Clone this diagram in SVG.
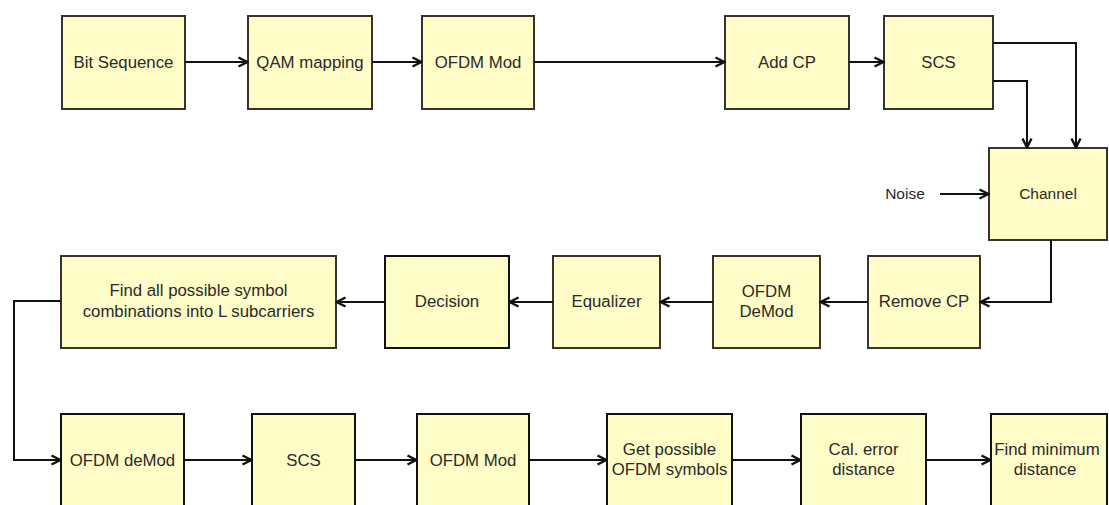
<svg xmlns="http://www.w3.org/2000/svg" width="1109" height="505" viewBox="0 0 1109 505">
  <style>
    .box { fill: #FFFCC8; stroke: #35352c; stroke-width: 2; }
    .dark { stroke: #111; }
    .lbl { font-family: "Liberation Sans", Arial, sans-serif; font-size: 16.8px; fill: #2a2a2a; text-anchor: middle; }
    .sm { font-size: 15.5px; }
    .wire { fill: none; stroke: #111; stroke-width: 2; marker-end: url(#arr); }
  </style>
  <defs>
    <marker id="arr" viewBox="0 0 12 12" refX="11" refY="6" markerWidth="12" markerHeight="12" markerUnits="userSpaceOnUse" orient="auto">
      <path d="M1.5,1.5 L10.5,6 L1.5,10.5" fill="none" stroke="#111" stroke-width="2.4" stroke-linejoin="miter"/>
    </marker>
  </defs>
  <rect width="1109" height="505" fill="#fff"/>

  <!-- transmitter chain -->
  <g id="bit-sequence">
    <rect class="box" x="62" y="16" width="123" height="93"/>
    <text class="lbl" x="123.5" y="68">Bit Sequence</text>
  </g>
  <g id="qam-mapping">
    <rect class="box" x="248" y="16" width="124" height="93"/>
    <text class="lbl" x="310" y="68">QAM mapping</text>
  </g>
  <g id="ofdm-mod-tx">
    <rect class="box" x="422" y="16" width="112" height="93"/>
    <text class="lbl" x="478" y="68">OFDM Mod</text>
  </g>
  <g id="add-cp">
    <rect class="box" x="725" y="16" width="124" height="93"/>
    <text class="lbl" x="787" y="68">Add CP</text>
  </g>
  <g id="scs-tx">
    <rect class="box" x="884" y="16" width="109" height="93"/>
    <text class="lbl" x="938.5" y="68">SCS</text>
  </g>
  <g id="channel">
    <rect class="box" x="989" y="148" width="118" height="92"/>
    <text class="lbl sm" x="1048" y="199">Channel</text>
  </g>
  <g id="noise">
    <text class="lbl sm" x="905" y="199">Noise</text>
  </g>

  <!-- receiver chain -->
  <g id="remove-cp">
    <rect class="box" x="868" y="256" width="112" height="92"/>
    <text class="lbl" x="924" y="307">Remove CP</text>
  </g>
  <g id="ofdm-demod-rx">
    <rect class="box" x="713" y="256" width="107" height="92"/>
    <text class="lbl" x="766.5" y="297">OFDM</text>
    <text class="lbl" x="766.5" y="317">DeMod</text>
  </g>
  <g id="equalizer">
    <rect class="box" x="553" y="256" width="107" height="92"/>
    <text class="lbl" x="606.5" y="307">Equalizer</text>
  </g>
  <g id="decision">
    <rect class="box dark" x="385" y="256" width="124" height="92"/>
    <text class="lbl" x="447" y="307">Decision</text>
  </g>
  <g id="find-combinations">
    <rect class="box" x="61" y="256" width="275" height="92"/>
    <text class="lbl" x="198.5" y="296">Find all possible symbol</text>
    <text class="lbl" x="198.5" y="317">combinations into L subcarriers</text>
  </g>

  <!-- detection chain -->
  <g id="ofdm-demod-det">
    <rect class="box dark" x="61" y="414" width="123" height="100"/>
    <text class="lbl" x="122.5" y="466">OFDM deMod</text>
  </g>
  <g id="scs-det">
    <rect class="box dark" x="252" y="414" width="103" height="100"/>
    <text class="lbl" x="303.5" y="466">SCS</text>
  </g>
  <g id="ofdm-mod-det">
    <rect class="box dark" x="417" y="414" width="112" height="100"/>
    <text class="lbl" x="473" y="466">OFDM Mod</text>
  </g>
  <g id="possible-symbols">
    <rect class="box dark" x="607" y="414" width="125" height="100"/>
    <text class="lbl" x="669.5" y="455">Get possible</text>
    <text class="lbl" x="669.5" y="475">OFDM symbols</text>
  </g>
  <g id="error-distance">
    <rect class="box dark" x="801" y="414" width="125" height="100"/>
    <text class="lbl" x="863.5" y="455">Cal. error</text>
    <text class="lbl" x="863.5" y="475">distance</text>
  </g>
  <g id="min-distance">
    <rect class="box dark" x="991" y="414" width="116" height="100"/>
    <text class="lbl" x="1047" y="455">Find minimum</text>
    <text class="lbl" x="1045" y="475">distance</text>
  </g>

  <g id="connectors">
    <path class="wire" d="M185,62 H248"/>
    <path class="wire" d="M372,62 H422"/>
    <path class="wire" d="M534,62 H725"/>
    <path class="wire" d="M849,62 H884"/>
    <path class="wire" d="M993,43 H1076 V148"/>
    <path class="wire" d="M993,81 H1027 V148"/>
    <path class="wire" d="M940,194 H989"/>
    <path class="wire" d="M1051,240 V302 H980"/>
    <path class="wire" d="M868,302 H820"/>
    <path class="wire" d="M713,302 H660"/>
    <path class="wire" d="M553,302 H509"/>
    <path class="wire" d="M385,302 H336"/>
    <path class="wire" d="M61,301 H14 V460 H61"/>
    <path class="wire" d="M184,460 H252"/>
    <path class="wire" d="M355,460 H417"/>
    <path class="wire" d="M529,460 H607"/>
    <path class="wire" d="M732,460 H801"/>
    <path class="wire" d="M926,460 H991"/>
  </g>
</svg>
